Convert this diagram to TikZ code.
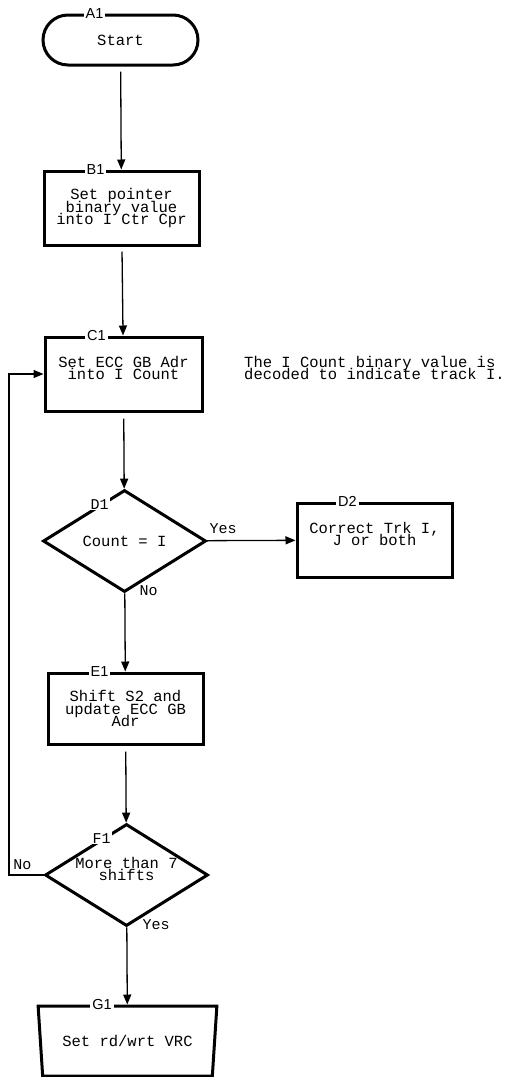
\documentclass[tikz,border=0pt]{standalone}
\usepackage{fontspec}
\usepackage{tikz}
\usetikzlibrary{shapes.geometric,arrows.meta,calc}
\newfontfamily\fcmono{Liberation Mono}
\newfontfamily\fcsans{Liberation Sans}
\tikzset{
  fctext/.style={font={\fcmono\fontsize{15.5}{12.2}\selectfont\lineskiplimit=-20pt}},
  fcbox/.style={fctext, rectangle, draw=black, line width=3pt, minimum width=155pt, minimum height=74pt, inner sep=0pt, align=center},
  fcterm/.style={fcbox, rounded corners=25pt, minimum height=50pt},
  fcdecide/.style={fctext, diamond, aspect=1.6, draw=black, line width=3pt, minimum width=163pt, minimum height=102pt, inner sep=0pt, align=center},
  fcmanual/.style={fctext, trapezium, shape border rotate=180, trapezium left angle=73, trapezium right angle=73, trapezium stretches=true, draw=black, line width=3pt, minimum width=179pt, minimum height=70pt, inner sep=0pt},
  fctag/.style={font={\fcsans\fontsize{14.5}{15}\selectfont}, fill=white, inner xsep=2pt, inner ysep=0pt},
  fcword/.style={font={\fcmono\fontsize{15}{15}\selectfont}, fill=white, inner sep=1pt},
  fcnote/.style={fctext, align=left, inner sep=0pt},
  fcflow/.style={line width=1.3pt, draw=black, -{Triangle[length=10pt,width=8pt]}},
}
\begin{document}
\begin{tikzpicture}[x=1pt,y=-1pt]
\useasboundingbox (0,0) rectangle (511,1077);
% boxes
\node[fcterm] (A1) at (120.5,40) {Start};
\node[fcbox] (B1) at (121.5,208) {Set pointer\\binary value\\into I Ctr Cpr};
\node[fcbox, minimum width=157pt] (C1) at (123.5,374) {Set ECC GB Adr\\into I Count\\~};
\node[fcdecide] (D1) at (124.5,541) {Count = I};
\node[fcbox] (D2) at (374.5,540) {Correct Trk I,\\J or both\\~};
\node[fcbox, minimum height=71pt] (E1) at (125.5,708.5) {Shift S2 and\\update ECC GB\\Adr};
\node[fcdecide] (F1) at (126.5,875) {More than 7\\shifts\\~};
\node[fcmanual] (G1) at (127.5,1041) {Set rd/wrt VRC};
\node[fcnote, anchor=west] (note) at (244,368) {The I Count binary value is\\decoded to indicate track I.};
% connectors
\draw[fcflow, shorten <=5pt] (A1) -- (B1);
\draw[fcflow, shorten <=5pt] (B1) -- (C1);
\draw[fcflow, shorten <=6pt] (C1) -- (D1);
\draw[fcflow] (D1) -- (D2);
\draw[fcflow] (D1) -- (E1);
\draw[fcflow, shorten <=6pt] (E1) -- (F1);
\draw[fcflow] (F1) -- (G1);
\coordinate (loop) at (9,875);
\draw[fcflow] (F1.west) -- (loop) |- (C1.west);
% tags
\node[fctag] (a1tag) at ([xshift=53pt]A1.north west) {A1};
\node[fctag] (b1tag) at ([xshift=53pt]B1.north west) {B1};
\node[fctag] (c1tag) at ([xshift=53pt]C1.north west) {C1};
\node[fctag] (d2tag) at ([xshift=52pt]D2.north west) {D2};
\node[fctag] (e1tag) at ([xshift=53pt]E1.north west) {E1};
\node[fctag] (g1tag) at ([xshift=-25.5pt]G1.north) {G1};
\node[fcword] (d1tag) at ($(D1.north)!0.3!(D1.west)$) {D1};
\node[fcword] (f1tag) at ($(F1.north)!0.3!(F1.west)$) {F1};
% answers
\node[fcword, anchor=south west] (d1yes) at ([xshift=1pt,yshift=6pt]D1.east) {Yes};
\node[fcword, anchor=west] (d1no) at ([xshift=14pt,yshift=3pt]D1.south) {No};
\node[fcword, anchor=south east] (f1no) at ([xshift=-11pt,yshift=4pt]F1.west) {No};
\node[fcword, anchor=west] (f1yes) at ([xshift=15pt,yshift=3pt]F1.south) {Yes};
\end{tikzpicture}
\end{document}
